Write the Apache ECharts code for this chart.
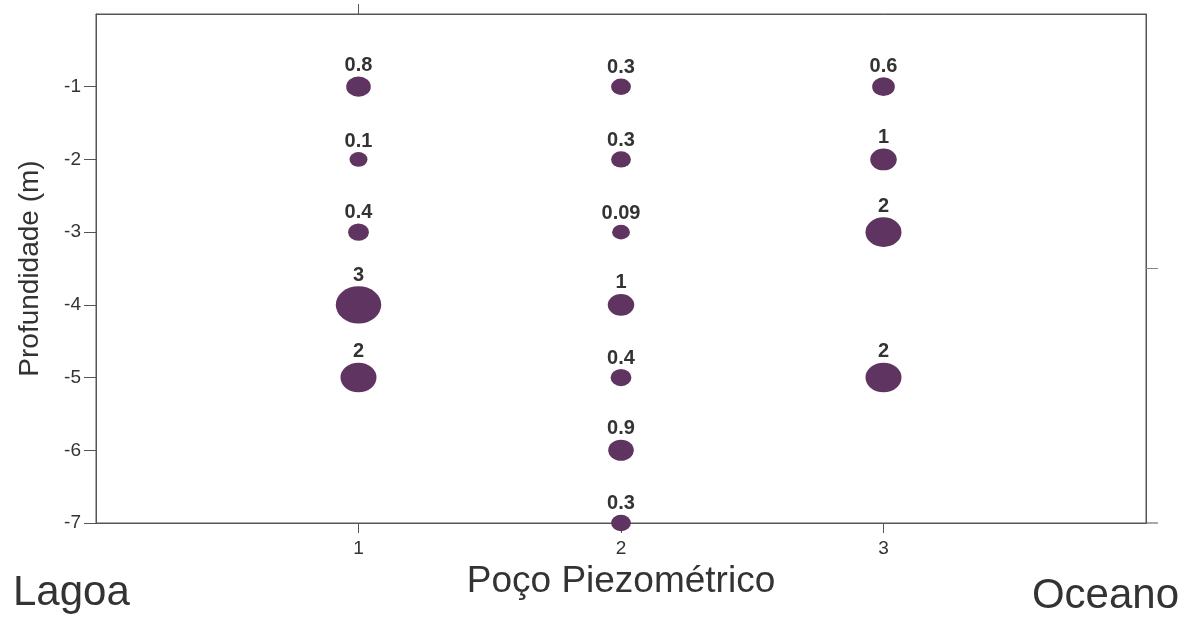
<!DOCTYPE html>
<html>
<head>
<meta charset="utf-8">
<script src="https://cdn.jsdelivr.net/npm/echarts@6/dist/echarts.min.js"></script>
<style>html,body{margin:0;padding:0;background:#fff}#c{width:1187px;height:621px}</style>
</head>
<body>
<div id="c"></div>
<script>
// Data
const wellTicks = [1, 2, 3];
const depthTicks = [-1, -2, -3, -4, -5, -6, -7];
const well1Depth = [-1, -2, -3, -4, -5];
const well1Values = [0.8, 0.1, 0.4, 3, 2];
const well2Depth = [-1, -2, -3, -4, -5, -6, -7];
const well2Values = [0.3, 0.3, 0.09, 1, 0.4, 0.9, 0.3];
const well3Depth = [-1, -2, -3, -5];
const well3Values = [0.6, 1, 2, 2];
const xAxisTitle = 'Poço Piezométrico';
const yAxisTitle = 'Profundidade (m)';
const leftNote = 'Lagoa';
const rightNote = 'Oceano';

const FONT = "'Liberation Sans', Arial, Helvetica, sans-serif";
const AXIS_COLOR = '#555';
const BUBBLE = '#5f3461';

function build(well, depths, values) {
  return depths.map((d, i) => [well, d, values[i]]);
}
const points = []
  .concat(build(1, well1Depth, well1Values))
  .concat(build(2, well2Depth, well2Values))
  .concat(build(3, well3Depth, well3Values));

const chart = echarts.init(document.getElementById('c'));
chart.setOption({
  animation: false,
  backgroundColor: '#fff',
  grid: { left: 96, right: 41, top: 14, bottom: 98, show: true, borderColor: AXIS_COLOR, borderWidth: 1, backgroundColor: 'transparent' },
  xAxis: [{
    type: 'value', min: 0, max: 4, interval: 1, position: 'bottom',
    name: xAxisTitle, nameLocation: 'middle', nameGap: 32,
    nameTextStyle: { fontFamily: FONT, fontSize: 37, color: '#333' },
    axisLine: { show: true, onZero: false, lineStyle: { color: AXIS_COLOR, width: 1 } },
    axisTick: { show: true, inside: false, length: 10, customValues: wellTicks, lineStyle: { color: AXIS_COLOR } },
    axisLabel: { customValues: wellTicks, margin: 16, fontFamily: FONT, fontSize: 19, color: '#333' },
    splitLine: { show: false }
  }, {
    type: 'value', min: 0, max: 4, interval: 1, position: 'top',
    axisLine: { show: true, onZero: false, lineStyle: { color: AXIS_COLOR, width: 1 } },
    axisTick: { show: true, inside: false, length: 10, customValues: [wellTicks[0]], lineStyle: { color: AXIS_COLOR } },
    axisLabel: { show: false },
    splitLine: { show: false }
  }],
  yAxis: [{
    type: 'value', min: -7, max: 0, interval: 1, position: 'left',
    name: yAxisTitle, nameLocation: 'middle', nameGap: 52,
    nameTextStyle: { fontFamily: FONT, fontSize: 28, color: '#333' },
    axisLine: { show: true, onZero: false, lineStyle: { color: AXIS_COLOR, width: 1 } },
    axisTick: { show: true, inside: false, length: 12, customValues: depthTicks, lineStyle: { color: AXIS_COLOR } },
    axisLabel: { customValues: depthTicks, margin: 15, fontFamily: FONT, fontSize: 19, color: '#333' },
    splitLine: { show: false }
  }, {
    type: 'value', min: -7, max: 0, interval: 1, position: 'right',
    axisLine: { show: true, onZero: false, lineStyle: { color: AXIS_COLOR, width: 1 } },
    axisTick: { show: true, inside: false, length: 12, customValues: [-3.5], lineStyle: { color: '#888' } },
    axisLabel: { show: false },
    splitLine: { show: false }
  }],
  series: [{
    type: 'scatter',
    xAxisIndex: 0, yAxisIndex: 0,
    clip: false,
    data: points,
    symbol: 'circle',
    symbolSize: function (v) { return [17 + 9.5 * v[2], 14 + 7.8 * v[2]]; },
    itemStyle: { color: BUBBLE, opacity: 1 },
    label: {
      show: true, position: 'top', distance: 1,
      formatter: function (p) { return String(p.value[2]); },
      fontFamily: FONT, fontSize: 20, fontWeight: 'bold', color: '#333'
    },
    emphasis: { disabled: true },
    z: 3
  }]
});

// Corner labels and a short extension of the bottom axis line past the frame
const corner = chart.convertToPixel({ xAxisIndex: 0, yAxisIndex: 0 }, [4, -7]);
chart.setOption({
  graphic: [
    { type: 'text', left: 13, top: 572, style: { text: leftNote, font: '42px ' + FONT, fill: '#333' } },
    { type: 'text', right: 8, top: 575, style: { text: rightNote, font: '42px ' + FONT, fill: '#333' } },
    { type: 'line', shape: { x1: corner[0], y1: corner[1], x2: corner[0] + 12, y2: corner[1] }, style: { stroke: AXIS_COLOR, lineWidth: 1 } }
  ]
});
</script>
</body>
</html>
